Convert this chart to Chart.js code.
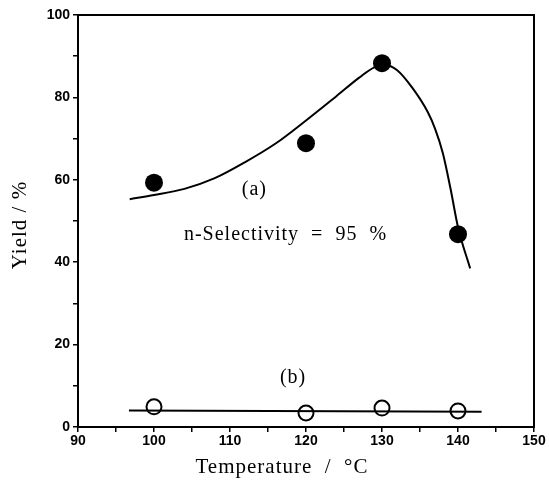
<!DOCTYPE html>
<html>
<head>
<meta charset="utf-8">
<script src="https://cdn.jsdelivr.net/npm/chart.js@4/dist/chart.umd.min.js"></script>
<style>
  html, body { margin: 0; padding: 0; background: #fff; }
  #wrap { width: 549px; height: 484px; }
</style>
</head>
<body>
<div id="wrap"><canvas id="c" width="549" height="484"></canvas></div>
<script>
// Measured points, series (a): filled circles
const tempsA = [100, 120, 130, 140];
const yieldA = [59.3, 68.9, 88.3, 46.8];
// Measured points, series (b): open circles
const tempsB = [100, 120, 130, 140];
const yieldB = [4.9, 3.4, 4.6, 3.9];
// Fitted curve (a)
const curveAX = [96.8, 100, 104, 108, 112, 116, 120, 124, 127, 129, 130.5, 132, 134, 136, 137, 138, 139, 140, 141.6];
const curveAY = [55.3, 56.3, 57.8, 60.4, 64.3, 68.8, 74.4, 80.3, 84.8, 87.3, 87.8, 86.6, 82.3, 76.5, 72.3, 66.5, 58.0, 48.5, 38.5];
// Fitted line (b)
const lineBX = [96.7, 143.1];
const lineBY = [4.0, 3.7];
// Axis settings
const xMin = 90, xMax = 150, xStep = 5, xLabelStep = 10;
const yMin = 0, yMax = 100, yStep = 10, yLabelStep = 20;
// Texts
const xTitle = 'Temperature  /  °C';
const yTitle = 'Yield / %';
const annotations = [
  { text: "(a)", x: 113.2, y: 57.6 },
  { text: "n-Selectivity  =  95  %", x: 117.3, y: 46.6 },
  { text: "(b)", x: 118.3, y: 11.9 }
];

const toXY = (xs, ys) => xs.map((x, i) => ({ x: x, y: ys[i] }));
const serif = '"Liberation Serif", "Times New Roman", serif';

const framePlugin = {
  id: 'frame',
  afterDraw(chart) {
    const { ctx, chartArea: a, scales } = chart;
    ctx.save();
    ctx.strokeStyle = '#000';
    ctx.lineWidth = 2;
    ctx.strokeRect(a.left, a.top, a.right - a.left, a.bottom - a.top);
    ctx.fillStyle = '#000';
    ctx.font = '20px ' + serif;
    ctx.textAlign = 'center';
    ctx.textBaseline = 'middle';
    try { ctx.letterSpacing = '1px'; } catch (e) {}
    annotations.forEach(an => {
      ctx.fillText(an.text, scales.x.getPixelForValue(an.x), scales.y.getPixelForValue(an.y));
    });
    // axis titles
    ctx.font = '21px ' + serif;
    ctx.fillText(xTitle, 282, 467);
    ctx.translate(20, 225);
    ctx.rotate(-Math.PI / 2);
    ctx.fillText(yTitle, 0, 0);
    ctx.restore();
  }
};

new Chart(document.getElementById('c'), {
  type: 'scatter',
  data: {
    datasets: [
      {
        label: 'curve a',
        data: toXY(curveAX, curveAY),
        showLine: true,
        borderColor: '#000',
        borderWidth: 2,
        pointRadius: 0,
        cubicInterpolationMode: 'monotone',
        fill: false
      },
      {
        label: 'line b',
        data: toXY(lineBX, lineBY),
        showLine: true,
        borderColor: '#000',
        borderWidth: 2,
        pointRadius: 0,
        fill: false
      },
      {
        label: '(a)',
        data: toXY(tempsA, yieldA),
        pointRadius: 9,
        pointBackgroundColor: '#000',
        pointBorderColor: '#000',
        pointBorderWidth: 0
      },
      {
        label: '(b)',
        data: toXY(tempsB, yieldB),
        pointRadius: 7.5,
        pointBackgroundColor: 'rgba(0,0,0,0)',
        pointBorderColor: '#000',
        pointBorderWidth: 2
      }
    ]
  },
  options: {
    responsive: false,
    animation: false,
    events: [],
    layout: { padding: { top: 15, right: 15, left: 0, bottom: 0 } },
    plugins: { legend: { display: false }, tooltip: { enabled: false } },
    scales: {
      x: {
        type: 'linear',
        min: xMin, max: xMax,
        afterFit(s) { s.height = 57; },
        ticks: {
          stepSize: xStep,
          autoSkip: false,
          maxRotation: 0,
          padding: 1,
          color: '#000',
          font: { family: '"Liberation Sans", Arial, sans-serif', size: 14, weight: 'bold' },
          callback: v => (v % xLabelStep === 0 ? v : '')
        },
        grid: { drawOnChartArea: false, tickLength: 5, color: '#000', lineWidth: 1.5 },
        border: { display: true, color: '#000', width: 2 },
        title: { display: false }
      },
      y: {
        type: 'linear',
        min: yMin, max: yMax,
        afterFit(s) { s.width = 78; },
        ticks: {
          stepSize: yStep,
          autoSkip: false,
          padding: 3,
          color: '#000',
          font: { family: '"Liberation Sans", Arial, sans-serif', size: 14, weight: 'bold' },
          callback: v => (v % yLabelStep === 0 ? v : '')
        },
        grid: { drawOnChartArea: false, tickLength: 5, color: '#000', lineWidth: 1.5 },
        border: { display: true, color: '#000', width: 2 },
        title: { display: false }
      }
    }
  },
  plugins: [framePlugin]
});
</script>
</body>
</html>
